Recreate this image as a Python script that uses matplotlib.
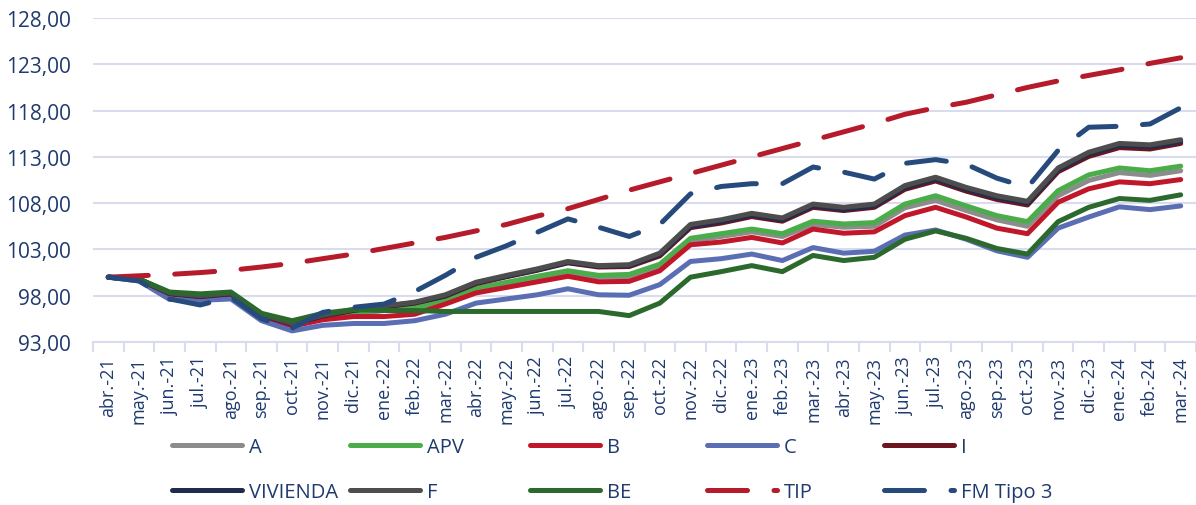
import numpy as np
import matplotlib
matplotlib.use("Agg")
import matplotlib.pyplot as plt
from matplotlib.ticker import FuncFormatter

plt.rcParams['font.family'] = ['Open Sans', 'DejaVu Sans']

meses = ['abr.-21', 'may.-21', 'jun.-21', 'jul.-21', 'ago.-21', 'sep.-21', 'oct.-21', 'nov.-21',
         'dic.-21', 'ene.-22', 'feb.-22', 'mar.-22', 'abr.-22', 'may.-22', 'jun.-22', 'jul.-22',
         'ago.-22', 'sep.-22', 'oct.-22', 'nov.-22', 'dic.-22', 'ene.-23', 'feb.-23', 'mar.-23',
         'abr.-23', 'may.-23', 'jun.-23', 'jul.-23', 'ago.-23', 'sep.-23', 'oct.-23', 'nov.-23',
         'dic.-23', 'ene.-24', 'feb.-24', 'mar.-24']

serie_a = [100, 99.8, 98.3, 98.0, 98.2, 95.8, 94.9, 95.6, 96.0, 96.4, 96.6, 97.3, 98.6, 99.25, 99.9,
           100.5, 100.0, 100.05, 101.1, 103.9, 104.4, 104.9, 104.4, 105.7, 105.4, 105.5, 107.5, 108.3,
           107.2, 106.2, 105.5, 108.8, 110.45, 111.3, 111.0, 111.5]
serie_apv = [100, 99.8, 98.3, 98.0, 98.2, 95.9, 94.95, 95.7, 96.1, 96.6, 96.75, 97.5, 98.8, 99.45,
             100.1, 100.7, 100.2, 100.3, 101.4, 104.2, 104.7, 105.2, 104.7, 106.05, 105.75, 105.9,
             107.9, 108.8, 107.7, 106.65, 106.0, 109.35, 111.05, 111.8, 111.5, 112.0]
serie_b = [100, 99.75, 98.2, 97.9, 98.1, 95.6, 94.7, 95.4, 95.75, 95.75, 96.0, 97.1, 98.3, 98.9, 99.5,
           100.1, 99.5, 99.55, 100.7, 103.5, 103.8, 104.3, 103.7, 105.2, 104.75, 104.9, 106.65, 107.55,
           106.5, 105.3, 104.7, 108.1, 109.55, 110.3, 110.1, 110.55]
serie_c = [100, 99.6, 97.6, 97.5, 97.65, 95.3, 94.2, 94.8, 95.0, 95.0, 95.3, 96.0, 97.2, 97.65, 98.1,
           98.75, 98.1, 98.05, 99.2, 101.7, 102.0, 102.5, 101.8, 103.2, 102.6, 102.8, 104.55, 105.1,
           104.1, 102.85, 102.15, 105.3, 106.5, 107.6, 107.3, 107.7]
serie_i = [100, 99.75, 98.2, 97.9, 98.2, 95.9, 94.9, 95.8, 96.4, 96.8, 97.2, 97.95, 99.3, 100.05,
           100.75, 101.55, 101.1, 101.15, 102.3, 105.35, 105.85, 106.55, 106.05, 107.55, 107.2, 107.55,
           109.5, 110.4, 109.3, 108.4, 107.8, 111.4, 113.05, 114.0, 113.85, 114.45]
serie_vivienda = [100, 99.8, 98.25, 97.95, 98.25, 95.95, 94.95, 95.85, 96.45, 96.85, 97.25, 98.0,
                  99.4, 100.1, 100.8, 101.6, 101.2, 101.25, 102.45, 105.5, 106.0, 106.7, 106.2, 107.7,
                  107.35, 107.7, 109.7, 110.6, 109.5, 108.6, 108.0, 111.6, 113.3, 114.25, 114.1, 114.65]
serie_f = [100, 99.8, 98.3, 98.0, 98.3, 96.0, 95.0, 95.9, 96.5, 96.9, 97.3, 98.1, 99.45, 100.2, 100.9,
           101.7, 101.25, 101.35, 102.6, 105.7, 106.2, 106.9, 106.4, 107.9, 107.55, 107.9, 109.9, 110.8,
           109.7, 108.8, 108.2, 111.8, 113.5, 114.45, 114.3, 114.85]
serie_be = [100, 99.8, 98.4, 98.2, 98.4, 96.1, 95.3, 96.1, 96.5, 96.4, 96.4, 96.3, 96.3, 96.3, 96.3,
            96.3, 96.3, 95.85, 97.2, 100.0, 100.6, 101.25, 100.6, 102.35, 101.8, 102.15, 104.1, 105.0,
            104.2, 103.1, 102.5, 106.0, 107.55, 108.5, 108.3, 108.9]
serie_tip = [100, 100.15, 100.3, 100.5, 100.75, 101.1, 101.5, 102.0, 102.5, 103.1, 103.7, 104.3, 105.0,
             105.7, 106.6, 107.4, 108.4, 109.4, 110.3, 111.2, 112.1, 113.0, 113.9, 114.8, 115.7, 116.6,
             117.6, 118.3, 118.9, 119.7, 120.5, 121.2, 121.8, 122.4, 123.1, 123.7]
serie_fm = [100, 99.6, 97.65, 97.0, 97.85, 95.5, 94.5, 96.2, 96.75, 97.1, 98.45, 100.2, 102.15, 103.4,
            104.85, 106.3, 105.4, 104.4, 105.7, 109.0, 109.8, 110.1, 110.1, 111.9, 111.35, 110.6, 112.3,
            112.7, 112.2, 110.7, 109.7, 113.7, 116.2, 116.3, 116.55, 118.3]

nombres = ['A', 'APV', 'B', 'C', 'I', 'VIVIENDA', 'F', 'BE', 'TIP', 'FM Tipo 3']
colores = ['#8c8c8c', '#4aad4a', '#c0182a', '#5b6eb3', '#6e1520', '#1f2d4d', '#4d4d4d', '#2b6a2c',
           '#b51b2b', '#264a7c']

TEXTO = '#1f3a6e'
GRID = '#d9dcee'


def main():
    fig = plt.figure(figsize=(11.96, 5.06), dpi=100)
    ax = fig.add_axes([93 / 1196, 1 - 343 / 506, 1103 / 1196, 324 / 506])

    series = [serie_a, serie_apv, serie_b, serie_c, serie_i, serie_vivienda, serie_f, serie_be,
              serie_tip, serie_fm]
    x = np.arange(len(meses))

    lineas = []
    for nombre, color, datos in zip(nombres, colores, series):
        if nombre in ('TIP', 'FM Tipo 3'):
            ln, = ax.plot(x, datos, color=color, lw=3.6, dashes=(8, 5.3),
                          dash_capstyle='round', solid_joinstyle='round', label=nombre)
        else:
            ln, = ax.plot(x, datos, color=color, lw=3.6, solid_joinstyle='round',
                          solid_capstyle='round', label=nombre)
        lineas.append(ln)

    ax.set_xlim(-0.5, len(meses) - 0.5)
    ax.set_ylim(93, 128)
    ax.set_yticks(np.arange(93, 129, 5))
    ax.yaxis.set_major_formatter(FuncFormatter(lambda v, p: format(v, '.2f').replace('.', ',')))
    ax.grid(axis='y', color=GRID, lw=1.5)
    ax.set_axisbelow(True)

    ax.set_xticks(x)
    ax.set_xticklabels(meses, rotation=90, fontsize=13, color=TEXTO)
    ax.set_xticks(np.arange(-0.5, len(meses), 1), minor=True)
    ax.tick_params(axis='x', which='major', length=0, pad=10)
    ax.tick_params(axis='x', which='minor', length=7, color=GRID, width=1.5)
    ax.tick_params(axis='y', length=0, labelsize=15, labelcolor=TEXTO, pad=16)

    for lado in ('left', 'right', 'top'):
        ax.spines[lado].set_visible(False)
    ax.spines['bottom'].set_color(GRID)
    ax.spines['bottom'].set_linewidth(1.5)

    # leyenda: una por columna para que queden igual de separadas
    columnas_x = [172, 350, 530, 707, 884]
    for j, cx in enumerate(columnas_x):
        leg = fig.legend([lineas[j], lineas[j + 5]], [nombres[j], nombres[j + 5]],
                         loc='upper left', bbox_to_anchor=(cx / 1196, 1 - 438 / 506),
                         frameon=False, fontsize=14.5, handlelength=3.5, handletextpad=0.3,
                         labelspacing=1.25, borderpad=0, borderaxespad=0)
        for t in leg.get_texts():
            t.set_color(TEXTO)

    fig.savefig('out.png', dpi=100)


if __name__ == "__main__":
    main()
